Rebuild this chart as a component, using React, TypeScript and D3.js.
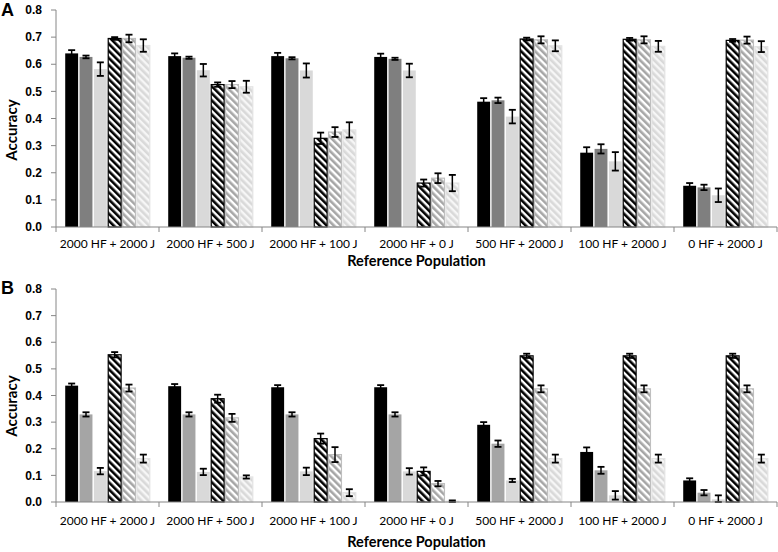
import React from "react";
import * as d3 from "d3";

const categories = [
  "2000 HF + 2000 J",
  "2000 HF + 500 J",
  "2000 HF + 100 J",
  "2000 HF + 0 J",
  "500 HF + 2000 J",
  "100 HF + 2000 J",
  "0 HF + 2000 J",
];
const yTicks = [0, 0.1, 0.2, 0.3, 0.4, 0.5, 0.6, 0.7, 0.8];

// Panel A values
const a1 = [0.64, 0.63, 0.63, 0.627, 0.462, 0.274, 0.152];
const a2 = [0.627, 0.624, 0.622, 0.62, 0.467, 0.288, 0.146];
const a3 = [0.582, 0.578, 0.577, 0.577, 0.407, 0.242, 0.117];
const a4 = [0.695, 0.525, 0.327, 0.162, 0.693, 0.692, 0.688];
const a5 = [0.695, 0.525, 0.35, 0.18, 0.69, 0.69, 0.689];
const a6 = [0.669, 0.517, 0.358, 0.162, 0.668, 0.666, 0.665];
const ea1 = [0.012, 0.01, 0.012, 0.012, 0.013, 0.02, 0.01];
const ea2 = [0.005, 0.004, 0.004, 0.004, 0.01, 0.017, 0.01];
const ea3 = [0.025, 0.023, 0.026, 0.025, 0.025, 0.034, 0.025];
const ea4 = [0.005, 0.008, 0.021, 0.013, 0.005, 0.005, 0.005];
const ea5 = [0.014, 0.013, 0.018, 0.018, 0.013, 0.013, 0.013];
const ea6 = [0.023, 0.022, 0.028, 0.03, 0.02, 0.02, 0.02];

// Panel B values
const b1 = [0.437, 0.435, 0.431, 0.431, 0.29, 0.188, 0.081];
const b2 = [0.329, 0.329, 0.329, 0.329, 0.219, 0.119, 0.035];
const b3 = [0.116, 0.113, 0.115, 0.115, 0.081, 0.025, 0.01];
const b4 = [0.553, 0.388, 0.238, 0.115, 0.549, 0.549, 0.549];
const b5 = [0.428, 0.316, 0.178, 0.069, 0.425, 0.425, 0.425];
const b6 = [0.163, 0.094, 0.035, 0.003, 0.163, 0.163, 0.163];
const eb1 = [0.008, 0.008, 0.008, 0.008, 0.01, 0.017, 0.008];
const eb2 = [0.008, 0.008, 0.008, 0.008, 0.012, 0.013, 0.01];
const eb3 = [0.012, 0.012, 0.014, 0.012, 0.006, 0.016, 0.015];
const eb4 = [0.01, 0.015, 0.019, 0.015, 0.008, 0.008, 0.008];
const eb5 = [0.013, 0.015, 0.028, 0.01, 0.013, 0.013, 0.013];
const eb6 = [0.015, 0.006, 0.013, 0.003, 0.015, 0.015, 0.015];

const seriesKeys = ["s1", "s2", "s3", "s4", "s5", "s6"];

type Style = { fill: string; stroke: string; sw: number };

const stylesA: Style[] = [
  { fill: "#000000", stroke: "none", sw: 0 },
  { fill: "#7f7f7f", stroke: "none", sw: 0 },
  { fill: "#d9d9d9", stroke: "none", sw: 0 },
  { fill: "url(#hatchBlack)", stroke: "#000000", sw: 1.2 },
  { fill: "url(#hatchGray)", stroke: "#bfbfbf", sw: 1.2 },
  { fill: "url(#hatchLight)", stroke: "#e3e3e3", sw: 1.2 },
];
const stylesB: Style[] = [
  { fill: "#000000", stroke: "none", sw: 0 },
  { fill: "#a5a5a5", stroke: "none", sw: 0 },
  { fill: "#d9d9d9", stroke: "none", sw: 0 },
  { fill: "url(#hatchBlack)", stroke: "#000000", sw: 1.2 },
  { fill: "url(#hatchGray)", stroke: "#bfbfbf", sw: 1.2 },
  { fill: "url(#hatchLight)", stroke: "#e3e3e3", sw: 1.2 },
];

const X0 = 56;
const X1 = 777;
const AXIS = "#868686";

type PanelProps = {
  letter: string;
  top: number;
  bottom: number;
  letterY: number;
  labelY: number;
  titleY: number;
  accY: number;
  values: number[][];
  errors: number[][];
  styles: Style[];
};

function Panel(p: PanelProps) {
  const x = d3.scaleBand<string>().domain(categories).range([X0, X1]).padding(0);
  const xs = d3
    .scaleBand<string>()
    .domain(seriesKeys)
    .range([8.5, x.bandwidth() - 8.5])
    .paddingInner(0.1)
    .paddingOuter(0.05);
  const y = d3.scaleLinear().domain([0, 0.8]).range([p.bottom, p.top]);
  const bw = xs.bandwidth();
  return (
    <g>
      <text
        x={1}
        y={p.letterY}
        fontFamily="Liberation Sans, Arial, sans-serif"
        fontWeight="bold"
        fontSize={18}
      >
        {p.letter}
      </text>
      {/* y axis */}
      <line x1={X0} x2={X0} y1={y(0.8)} y2={y(0)} stroke={AXIS} strokeWidth={1} />
      {yTicks.map((t) => (
        <g key={t}>
          <line x1={X0 - 5} x2={X0} y1={y(t)} y2={y(t)} stroke={AXIS} strokeWidth={1} />
          <text
            x={42}
            y={y(t)}
            dy="0.35em"
            textAnchor="end"
            fontFamily="Liberation Sans, Arial, sans-serif"
            fontWeight="bold"
            fontSize={12}
            fill="#000"
          >
            {t.toFixed(1)}
          </text>
        </g>
      ))}
      <text
        transform={`translate(17,${p.accY}) rotate(-90)`}
        textAnchor="middle"
        fontFamily="Lato, sans-serif"
        fontWeight="bold"
        fontSize={15}
      >
        Accuracy
      </text>
      {/* bars */}
      {categories.map((c, ci) => (
        <g key={c} transform={`translate(${x(c)},0)`}>
          {seriesKeys.map((s, si) => {
            const v = p.values[si][ci];
            const e = p.errors[si][ci];
            const st = p.styles[si];
            const bx = xs(s)!;
            const cx = bx + bw / 2;
            return (
              <g key={s}>
                <rect
                  x={bx}
                  y={y(v)}
                  width={bw}
                  height={Math.max(0, y(0) - y(v))}
                  fill={st.fill}
                  stroke={st.stroke}
                  strokeWidth={st.sw}
                />
                <line x1={cx} x2={cx} y1={y(v + e)} y2={y(Math.max(0, v - e))} stroke="#000" strokeWidth={1.5} />
                <line x1={cx - 3.5} x2={cx + 3.5} y1={y(v + e)} y2={y(v + e)} stroke="#000" strokeWidth={1.8} />
                <line
                  x1={cx - 3.5}
                  x2={cx + 3.5}
                  y1={y(Math.max(0, v - e))}
                  y2={y(Math.max(0, v - e))}
                  stroke="#000"
                  strokeWidth={1.8}
                />
              </g>
            );
          })}
        </g>
      ))}
      {/* x axis */}
      <line x1={X0} x2={X1} y1={y(0)} y2={y(0)} stroke={AXIS} strokeWidth={1.2} />
      {categories.map((c) => (
        <line
          key={"t" + c}
          x1={x(c)!}
          x2={x(c)!}
          y1={y(0)}
          y2={y(0) + 5}
          stroke={AXIS}
          strokeWidth={1}
        />
      ))}
      <line x1={X1} x2={X1} y1={y(0)} y2={y(0) + 5} stroke={AXIS} strokeWidth={1} />
      {categories.map((c) => (
        <text
          key={"l" + c}
          x={x(c)! + x.bandwidth() / 2}
          y={p.labelY}
          dy="0.35em"
          textAnchor="middle"
          fontFamily="Lato, sans-serif"
          fontSize={12}
          fill="#000"
        >
          {c}
        </text>
      ))}
      <text
        x={(X0 + X1) / 2}
        y={p.titleY}
        dy="0.35em"
        textAnchor="middle"
        fontFamily="Lato, sans-serif"
        fontWeight="bold"
        fontSize={14.5}
      >
        Reference Population
      </text>
    </g>
  );
}

export default function App() {
  return (
    <svg
      width={778}
      height={552}
      style={{ position: "absolute", left: 0, top: 0, background: "#fff" }}
    >
      <defs>
        <pattern id="hatchBlack" patternUnits="userSpaceOnUse" width={5} height={5} patternTransform="rotate(-45)">
          <rect width={5} height={5} fill="#ffffff" />
          <rect width={2.6} height={5} fill="#000000" />
        </pattern>
        <pattern id="hatchGray" patternUnits="userSpaceOnUse" width={5} height={5} patternTransform="rotate(-45)">
          <rect width={5} height={5} fill="#ffffff" />
          <rect width={2.6} height={5} fill="#a6a6a6" />
        </pattern>
        <pattern id="hatchLight" patternUnits="userSpaceOnUse" width={5} height={5} patternTransform="rotate(-45)">
          <rect width={5} height={5} fill="#f6f6f6" />
          <rect width={2.6} height={5} fill="#d9d9d9" />
        </pattern>
      </defs>
      <Panel
        letter="A"
        top={10}
        bottom={227}
        letterY={16}
        labelY={244}
        titleY={261}
        accY={130}
        values={[a1, a2, a3, a4, a5, a6]}
        errors={[ea1, ea2, ea3, ea4, ea5, ea6]}
        styles={stylesA}
      />
      <Panel
        letter="B"
        top={289}
        bottom={502}
        letterY={294}
        labelY={521}
        titleY={542}
        accY={406}
        values={[b1, b2, b3, b4, b5, b6]}
        errors={[eb1, eb2, eb3, eb4, eb5, eb6]}
        styles={stylesB}
      />
    </svg>
  );
}
